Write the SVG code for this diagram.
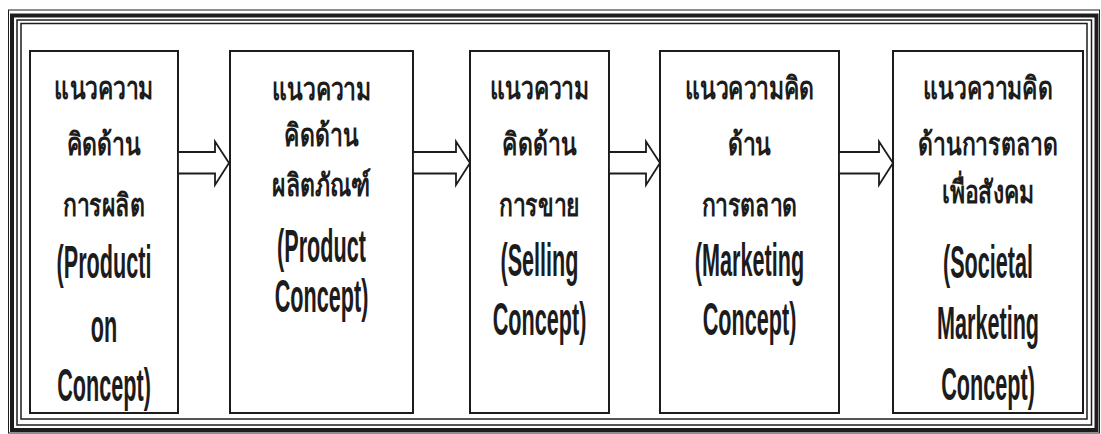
<svg xmlns="http://www.w3.org/2000/svg" width="1101" height="434" viewBox="0 0 1101 434">
<style>
.frame{fill:none;stroke:#1c1c1c}
.box{fill:#fff;stroke:#1c1c1c;stroke-width:2}
.arrow{fill:#fff;stroke:#1c1c1c;stroke-width:1.8;stroke-linejoin:miter}
.th{font-family:"Noto Sans","DejaVu Sans",sans-serif;font-weight:bold;font-size:31px;fill:#1c1c1c;text-anchor:middle}
.en{font-family:"Liberation Sans",Arial,sans-serif;font-weight:bold;font-size:46px;fill:#1c1c1c;text-anchor:middle}
</style>
<rect width="1101" height="434" fill="#fff"/>
<g id="frame">
<rect class="frame" x="8.5" y="10" width="1091" height="423" stroke-width="1" stroke="#555"/>
<rect class="frame" x="12" y="15.5" width="1084.5" height="414.5" stroke-width="4"/>
<rect class="frame" x="17" y="20" width="1074.5" height="405" stroke-width="1.5"/>
<rect class="frame" x="21" y="23.5" width="1066" height="395.5" stroke-width="1.5"/>
</g>
<g id="node1">
<rect class="box" x="30" y="51" width="148" height="362"/>
<text class="th" transform="translate(104,99) scale(0.74,1)">แนวความ</text>
<text class="th" transform="translate(104,155) scale(0.74,1)">คิดด้าน</text>
<text class="th" transform="translate(104,216) scale(0.74,1)">การผลิต</text>
<text class="en" transform="translate(104,278) scale(0.47,1)">(Producti</text>
<text class="en" transform="translate(104,342) scale(0.47,1)">on</text>
<text class="en" transform="translate(104,401) scale(0.47,1)">Concept)</text>
</g>
<g id="node2">
<rect class="box" x="230" y="51" width="183" height="362"/>
<text class="th" transform="translate(321.5,100) scale(0.74,1)">แนวความ</text>
<text class="th" transform="translate(321.5,146) scale(0.74,1)">คิดด้าน</text>
<text class="th" transform="translate(321.5,196) scale(0.74,1)">ผลิตภัณฑ์</text>
<text class="en" transform="translate(321.5,262) scale(0.47,1)">(Product</text>
<text class="en" transform="translate(321.5,312) scale(0.47,1)">Concept)</text>
</g>
<g id="node3">
<rect class="box" x="470" y="51" width="139" height="362"/>
<text class="th" transform="translate(539.5,99) scale(0.74,1)">แนวความ</text>
<text class="th" transform="translate(539.5,155) scale(0.74,1)">คิดด้าน</text>
<text class="th" transform="translate(539.5,216) scale(0.74,1)">การขาย</text>
<text class="en" transform="translate(539.5,276) scale(0.47,1)">(Selling</text>
<text class="en" transform="translate(539.5,335) scale(0.47,1)">Concept)</text>
</g>
<g id="node4">
<rect class="box" x="660" y="51" width="179" height="362"/>
<text class="th" transform="translate(749.5,99) scale(0.74,1)">แนวความคิด</text>
<text class="th" transform="translate(749.5,155) scale(0.74,1)">ด้าน</text>
<text class="th" transform="translate(749.5,216) scale(0.74,1)">การตลาด</text>
<text class="en" transform="translate(749.5,276) scale(0.47,1)">(Marketing</text>
<text class="en" transform="translate(749.5,335) scale(0.47,1)">Concept)</text>
</g>
<g id="node5">
<rect class="box" x="893" y="51" width="190" height="362"/>
<text class="th" transform="translate(988,99) scale(0.74,1)">แนวความคิด</text>
<text class="th" transform="translate(988,155) scale(0.74,1)">ด้านการตลาด</text>
<text class="th" transform="translate(988,203) scale(0.74,1)">เพื่อสังคม</text>
<text class="en" transform="translate(988,278) scale(0.47,1)">(Societal</text>
<text class="en" transform="translate(988,339) scale(0.47,1)">Marketing</text>
<text class="en" transform="translate(988,400) scale(0.47,1)">Concept)</text>
</g>
<g id="connectors">
<polygon class="arrow" points="178,152 215,152 215,141.5 229,163 215,185 215,173.5 178,173.5"/>
<polygon class="arrow" points="413,152 456,152 456,141.5 470,163 456,185 456,173.5 413,173.5"/>
<polygon class="arrow" points="609,152 646,152 646,141.5 660,163 646,185 646,173.5 609,173.5"/>
<polygon class="arrow" points="839,152 879,152 879,141.5 893,163 879,185 879,173.5 839,173.5"/>
</g>
</svg>
